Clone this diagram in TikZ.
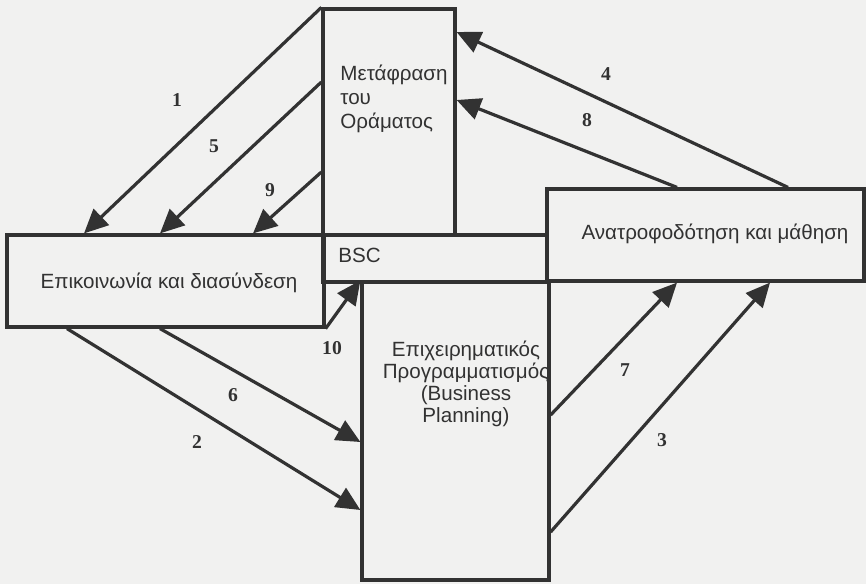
\documentclass[tikz,border=0pt]{standalone}
\usepackage{fontspec}
\setmainfont{Liberation Sans}
\newfontfamily\numfont{Liberation Serif}
\usetikzlibrary{arrows.meta,fit}
\definecolor{ink}{RGB}{50,50,50}
\definecolor{paper}{RGB}{241,241,240}
\begin{document}
\begin{tikzpicture}[x=0.5pt,y=-0.5pt,
  box/.style={draw=ink, line width=1.6pt, inner sep=0pt},
  flow/.style={draw=ink, line width=1.6pt, -{Triangle[length=12pt,width=11pt]}},
  txt/.style={text=ink, inner sep=0pt, font=\fontsize{10.3}{12}\selectfont},
  num/.style={text=ink, inner sep=0pt, font=\numfont\bfseries\fontsize{9.8}{11}\selectfont}]

% page
\fill[paper] (0,0) rectangle (866,584);
\useasboundingbox (0,0) rectangle (866,584);

% the five blocks of the scorecard process
\node[box, fit={(323,9) (455,235)}]   (vis)  {};
\node[box, fit={(323,235) (547,282)}] (bsc)  {};
\node[box, fit={(7,235) (324,327)}]   (comm) {};
\node[box, fit={(362,282) (549,580)}] (bp)   {};
\node[box, fit={(547,189) (864,281)}] (fb)   {};

% block texts
\node[txt, anchor=north west, align=left] (vistext) at (340,62)
  {\rule{0pt}{9pt}Μετάφραση\\του\\Οράματος};
\node[txt, anchor=base] (commtext) at (169,288) {Επικοινωνία και διασύνδεση};
\node[txt, anchor=base west] (bsctext) at (338,262) {BSC};
\node[txt, anchor=base] (fbtext) at (715,239) {Ανατροφοδότηση και μάθηση};
\node[txt, anchor=north, align=center, font=\fontsize{10.3}{11}\selectfont] (bptext) at (466,338)
  {\rule{0pt}{9pt}Επιχειρηματικός\\Προγραμματισμός\\(Business\\Planning)};

% flows between the blocks
\draw[flow] (vis.north west)     -- (84,0 |- comm.north);
\draw[flow] (vis.west |- 0,82)   -- (160,0 |- comm.north);
\draw[flow] (vis.west |- 0,172)  -- (253,0 |- comm.north);
\draw[flow] (788,0 |- fb.north)  -- (vis.east |- 0,32);
\draw[flow] (677,0 |- fb.north)  -- (vis.east |- 0,100);
\draw[flow] (67,0 |- comm.south) -- (bp.west |- 0,510);
\draw[flow] (160,0 |- comm.south) -- (bp.west |- 0,442);
\draw[flow] (comm.south east)    -- (bp.north west);
\draw[flow] (bp.east |- 0,415)   -- (677,0 |- fb.south);
\draw[flow] (bp.east |- 0,532)   -- (770,0 |- fb.south);

% step numbers
\node[num] (n1)  at (177,100) {1};
\node[num] (n5)  at (214,146) {5};
\node[num] (n9)  at (270,190) {9};
\node[num] (n4)  at (606,74)  {4};
\node[num] (n8)  at (587,120) {8};
\node[num] (n10) at (332,348) {10};
\node[num] (n6)  at (233,395) {6};
\node[num] (n2)  at (197,442) {2};
\node[num] (n7)  at (625,370) {7};
\node[num] (n3)  at (662,440) {3};
\end{tikzpicture}
\end{document}
